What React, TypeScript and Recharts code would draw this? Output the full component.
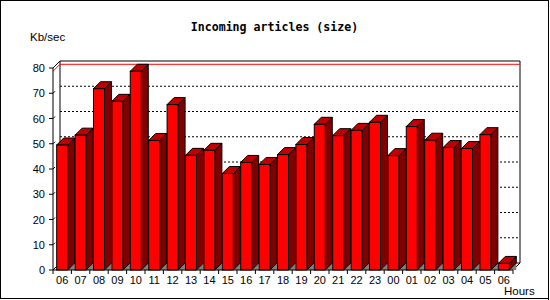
import React from "react";
import {
  BarChart,
  Bar,
  XAxis,
  YAxis,
  CartesianGrid,
  ReferenceArea,
} from "recharts";

const hours = [
  "06", "07", "08", "09", "10", "11", "12", "13", "14", "15", "16", "17",
  "18", "19", "20", "21", "22", "23", "00", "01", "02", "03", "04", "05", "06",
];

const sizeKb = [
  49.5, 53.4, 71.8, 66.8, 78.7, 51.3, 65.5, 45.4, 47.4, 38.2, 42.6, 41.8,
  45.7, 49.7, 57.7, 53.2, 55.3, 58.5, 45.3, 56.8, 51.4, 48.5, 48.1, 53.6, 2.6,
];

const yTicks = [0, 10, 20, 30, 40, 50, 60, 70, 80];
const gridValues = [10, 20, 30, 40, 50, 60, 70];

const data = hours.map((hour, i) => ({ hour, value: sizeKb[i] }));
const maxValue = Math.max(...sizeKb);

const DEPTH = 7;
const FONT = "'Liberation Sans', Arial, sans-serif";

const Bar3D = (props: any) => {
  const { x, y, width, height } = props;
  if (x == null || height == null) return null;
  const d = DEPTH;
  const r = x + width;
  const b = y + height;
  return (
    <g>
      <polygon points={`${r},${b} ${r + d},${b - d} ${r + d},${b}`} fill="#808080" />
      <polygon
        points={`${r},${y} ${r + d},${y - d} ${r + d},${b - d} ${r},${b}`}
        fill="#800000"
        stroke="#000"
        strokeWidth={1}
      />
      <polygon
        points={`${x},${y} ${x + d},${y - d} ${r + d},${y - d} ${r},${y}`}
        fill="#c00000"
        stroke="#000"
        strokeWidth={1}
      />
      <rect x={x} y={y} width={width} height={height} fill="#ff0000" stroke="#000" strokeWidth={1} />
    </g>
  );
};

// back wall, floor edges and corner diagonals
const Frame = (props: any) => {
  const { x, y, width, height } = props;
  if (x == null) return null;
  const d = DEPTH;
  const b = y + height;
  const r = x + width;
  return (
    <g stroke="#000" strokeWidth={1} fill="none">
      <line x1={x + d} y1={y - d} x2={r + d} y2={y - d} />
      <line x1={x + d} y1={y - d} x2={x + d} y2={b - d} />
      <line x1={r + d} y1={y - d} x2={r + d} y2={b - d} />
      <line x1={x + d} y1={b - d} x2={r + d} y2={b - d} />
      <line x1={x} y1={y} x2={x + d} y2={y - d} />
      <line x1={x} y1={b} x2={x + d} y2={b - d} />
      <line x1={r} y1={b} x2={r + d} y2={b - d} />
    </g>
  );
};

const MaxLine = (props: any) => {
  const { x, y, width } = props;
  if (x == null) return null;
  const d = DEPTH;
  return (
    <g stroke="#ff0000" strokeWidth={1}>
      <line x1={x + d} y1={y - d} x2={x + width + d} y2={y - d} />
      <line x1={x} y1={y} x2={x + d} y2={y - d} />
    </g>
  );
};

const BackGridLine = (props: any) => {
  const { x1, y1, x2, y2, index } = props;
  return (
    <line
      key={`g-${index}`}
      x1={x1 + DEPTH}
      y1={y1 - DEPTH}
      x2={x2 + DEPTH}
      y2={y2 - DEPTH}
      stroke="#000"
      strokeWidth={1}
      strokeDasharray="2 2"
    />
  );
};

const HourTick = (props: any) => {
  const { x, y, payload, index, width, visibleTicksCount } = props;
  const band = width && visibleTicksCount ? width / visibleTicksCount : 18.4;
  const left = x - band / 2;
  const last = index === visibleTicksCount - 1;
  return (
    <g>
      <line x1={left} y1={y} x2={left} y2={y + 4} stroke="#000" />
      {last && <line x1={left + band} y1={y} x2={left + band} y2={y + 4} stroke="#000" />}
      <text x={x} y={y + 14} textAnchor="middle" fontSize={11} fontFamily={FONT} fill="#000">
        {payload.value}
      </text>
    </g>
  );
};

const ValueTick = (props: any) => {
  const { x, y, payload } = props;
  const axisX = x + 8;
  return (
    <g>
      <text x={x} y={y + 4} textAnchor="end" fontSize={11} fontFamily={FONT} fill="#000">
        {payload.value}
      </text>
      <line x1={axisX} y1={y} x2={axisX + 2} y2={y - 2} stroke="#000" />
    </g>
  );
};

export default function App() {
  return (
    <div style={{ position: "relative", width: 550, height: 300, background: "#fff" }}>
      <style>{"body{margin:0}"}</style>
      <BarChart
        width={550}
        height={300}
        data={data}
        margin={{ top: 68, right: 37, bottom: 0, left: 0 }}
        barCategoryGap="20%"
      >
        <CartesianGrid
          vertical={false}
          horizontalValues={gridValues}
          horizontal={BackGridLine}
        />
        <ReferenceArea y1={0} y2={80} shape={Frame} />
        <ReferenceArea y1={0} y2={maxValue} shape={MaxLine} />
        <Bar dataKey="value" shape={Bar3D} isAnimationActive={false} />
        <XAxis
          dataKey="hour"
          interval={0}
          height={30}
          tickSize={0}
          tickMargin={0}
          tickLine={false}
          axisLine={{ stroke: "#000" }}
          tick={<HourTick />}
        />
        <YAxis
          width={53}
          domain={[0, 80]}
          ticks={yTicks}
          interval={0}
          tickSize={4}
          tickMargin={4}
          tickLine={{ stroke: "#000" }}
          axisLine={{ stroke: "#000" }}
          tick={<ValueTick />}
        />
      </BarChart>
      <svg
        width={550}
        height={300}
        style={{ position: "absolute", left: 0, top: 0, pointerEvents: "none" }}
      >
        <rect x={0.5} y={0.5} width={548} height={298} fill="none" stroke="#000" strokeWidth={1} />
        <line x1={548.5} y1={0} x2={548.5} y2={300} stroke="#000" />
        <text
          x={274.5}
          y={31}
          textAnchor="middle"
          fontSize={11.6}
          fontWeight="bold"
          fontFamily="'DejaVu Sans Mono', monospace"
          fill="#000"
        >
          Incoming articles (size)
        </text>
        <text x={30} y={40.5} fontSize={11.5} fontFamily={FONT} fill="#000">
          Kb/sec
        </text>
        <text x={504} y={295} fontSize={11.5} fontFamily={FONT} fill="#000">
          Hours
        </text>
      </svg>
    </div>
  );
}
